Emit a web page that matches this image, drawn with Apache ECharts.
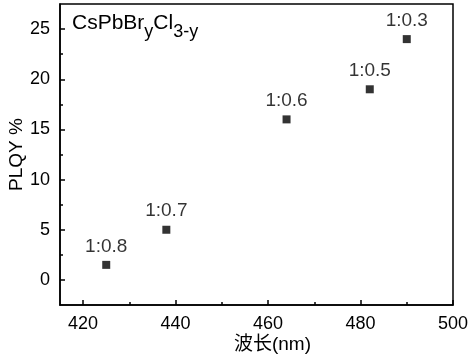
<!DOCTYPE html>
<html>
<head>
<meta charset="utf-8">
<script src="https://cdn.jsdelivr.net/npm/echarts@6/dist/echarts.min.js"></script>
<style>
  html, body { margin: 0; padding: 0; background: #fff; }
  #chart { width: 474px; height: 360px; }
</style>
</head>
<body>
<div id="chart"></div>
<script>
// emission wavelength (nm), PLQY (%), Br:Cl ratio
const wavelength = [425, 438, 464, 482, 490]
const plqy = [1.5, 5, 16, 19, 24]
const ratios = ['1:0.8', '1:0.7', '1:0.6', '1:0.5', '1:0.3']

const xTicks = [420, 440, 460, 480, 500]
const xMinorTicks = [430, 450, 470, 490]
const yTicks = [0, 5, 10, 15, 20, 25]
const yMinorTicks = [2.5, 7.5, 12.5, 17.5, 22.5]

const font = 'Liberation Sans, Arial, Noto Sans CJK SC, sans-serif'
const black = '#000'

let chart = echarts.init(document.getElementById('chart'))

let points = []
for (let i = 0; i < wavelength.length; i++) {
  points.push([wavelength[i], plqy[i], ratios[i]])
}

let option = {
  animation: false,
  backgroundColor: '#fff',
  title: {
    text: '{a|CsPbBr}{b|y}{a|Cl}{b|3-y}',
    left: 72,
    top: 13,
    padding: 0,
    textStyle: {
      fontSize: 21,
      fontWeight: 'normal',
      fontFamily: font,
      color: black,
      rich: {
        a: { fontSize: 21, fontWeight: 'normal', fontFamily: font, color: black, lineHeight: 24, verticalAlign: 'top' },
        b: { fontSize: 18, fontWeight: 'normal', fontFamily: font, color: black, verticalAlign: 'top', padding: [10, 0, 0, 0] }
      }
    }
  },
  grid: {
    left: 60,
    right: 21,
    top: 4,
    bottom: 55,
    containLabel: false,
    outerBoundsMode: 'none',
    show: true,
    borderColor: black,
    borderWidth: 1.5,
    backgroundColor: 'transparent'
  },
  xAxis: [
    {
      type: 'value',
      position: 'bottom',
      min: 415,
      max: 500,
      name: '波长(nm)',
      nameLocation: 'middle',
      nameGap: 30,
      nameMoveOverlap: false,
      nameTextStyle: { color: black, fontSize: 19, fontFamily: font, padding: [0, 0, 0, 32] },
      axisLine: { show: true, onZero: false, lineStyle: { color: black, width: 1.5 } },
      axisTick: { show: true, inside: true, length: 5, customValues: xTicks, lineStyle: { color: black, width: 1.5 } },
      axisLabel: { show: true, margin: 10, customValues: xTicks, color: black, fontSize: 18, fontFamily: font },
      splitLine: { show: false }
    },
    {
      type: 'value',
      position: 'bottom',
      min: 415,
      max: 500,
      axisLine: { show: false, onZero: false },
      axisTick: { show: true, inside: true, length: 3, customValues: xMinorTicks, lineStyle: { color: black, width: 1.5 } },
      axisLabel: { show: false },
      splitLine: { show: false }
    }
  ],
  yAxis: [
    {
      type: 'value',
      position: 'left',
      min: -2.5,
      max: 27.5,
      name: 'PLQY %',
      nameLocation: 'middle',
      nameGap: 34,
      nameMoveOverlap: false,
      nameTextStyle: { color: black, fontSize: 19, fontFamily: font },
      axisLine: { show: true, onZero: false, lineStyle: { color: black, width: 1.5 } },
      axisTick: { show: true, inside: true, length: 5, customValues: yTicks, lineStyle: { color: black, width: 1.5 } },
      axisLabel: { show: true, margin: 10, customValues: yTicks, color: black, fontSize: 18, fontFamily: font },
      splitLine: { show: false }
    },
    {
      type: 'value',
      position: 'left',
      min: -2.5,
      max: 27.5,
      axisLine: { show: false, onZero: false },
      axisTick: { show: true, inside: true, length: 3, customValues: yMinorTicks, lineStyle: { color: black, width: 1.5 } },
      axisLabel: { show: false },
      splitLine: { show: false }
    }
  ],
  series: [
    {
      type: 'scatter',
      xAxisIndex: 0,
      yAxisIndex: 0,
      symbol: 'rect',
      symbolSize: 8,
      itemStyle: { color: black },
      label: {
        show: true,
        position: 'top',
        distance: 5,
        color: black,
        fontSize: 19,
        fontFamily: font,
        formatter: function (p) { return p.data[2] }
      },
      data: points
    }
  ]
}

chart.setOption(option)
</script>
</body>
</html>
